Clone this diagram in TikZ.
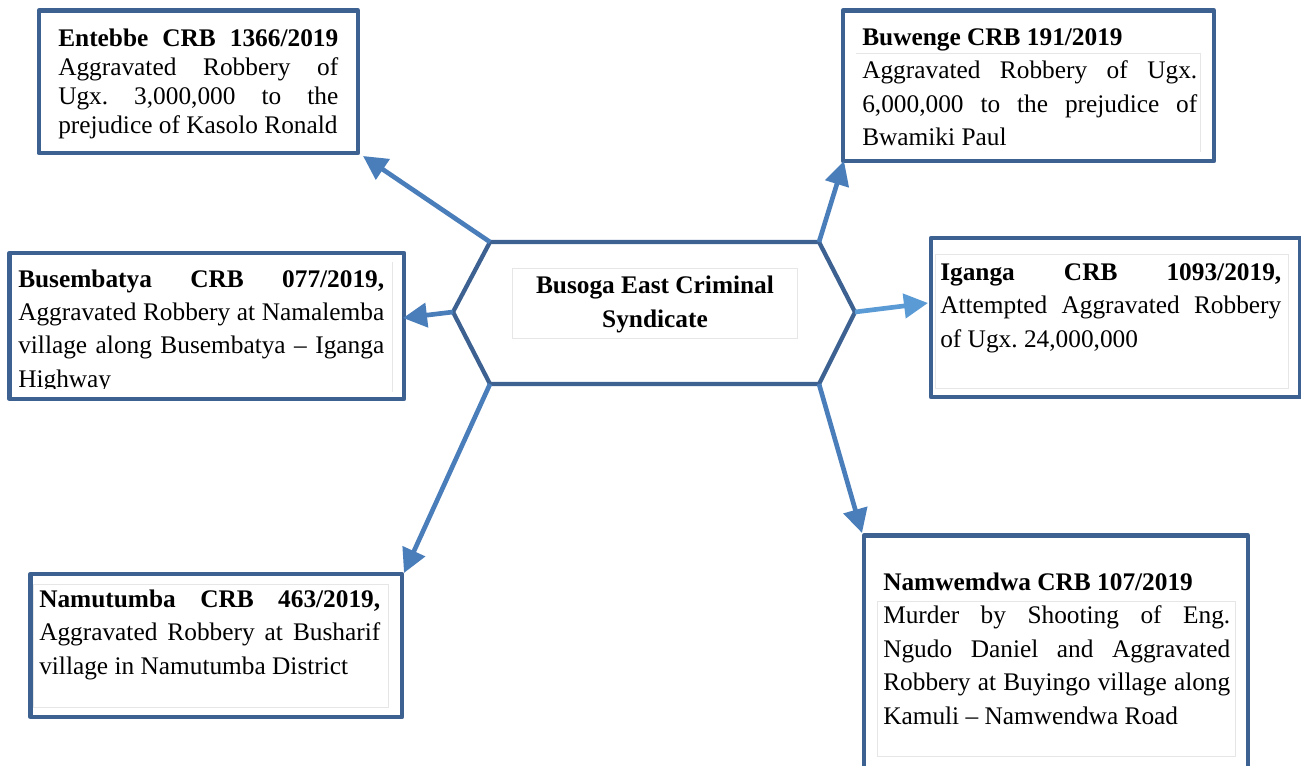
\documentclass[tikz,border=0pt]{standalone}
\usepackage{fontspec}
\setmainfont{Liberation Serif}
\usetikzlibrary{arrows.meta,fit}

\definecolor{frameblue}{HTML}{3D6292}
\definecolor{linkblue}{HTML}{4A7EBB}
\definecolor{lightlink}{HTML}{5B9BD5}
\definecolor{faintgray}{HTML}{E6E6E6}

% a line of text spread to a fixed width (justified line):
% every interword space gets an equal share of the spare room
\newcommand{\spreadline}[2]{{\spaceskip=.25em plus 1fil\relax\makebox[#1][s]{#2}}}
% a line of text at its natural width, left aligned
\newcommand{\plainline}[2]{\makebox[#1][l]{#2}}
% common set-up for box texts: Times-like single spaces and a first-line strut
\newcommand{\casestart}{\noindent\frenchspacing\spaceskip=.25em\relax\xspaceskip=.25em\relax\rule{0pt}{15pt}}

\tikzset{
  casebox/.style={draw=frameblue, line width=3.2pt, inner sep=0pt, line join=round},
  innerframe/.style={draw=faintgray, line width=0.6pt},
  casetext/.style={anchor=north west, inner sep=0pt,
    font=\fontsize{19pt}{25.1pt}\selectfont},
  link/.style={draw=linkblue, line width=3.5pt,
    -{Triangle[length=18pt,width=18pt]}},
}

\begin{document}
\begin{tikzpicture}[x=0.75pt,y=-0.75pt]
\useasboundingbox[fill=white] (0,0) rectangle (1301,766);

% ---- case boxes ----
\node[casebox, fit={(38.7,10.5) (358,153)}] (entebbe) {};
\node[casebox, fit={(843,10.5) (1214,161)}] (buwenge) {};
\node[casebox, fit={(9.5,253) (404,399)}] (busembatya) {};
\node[casebox, fit={(931,238) (1300.5,397)}] (iganga) {};
\node[casebox, fit={(30.5,574) (402,717)}] (namutumba) {};
\node[casebox, fit={(864,535.5) (1248,790)}] (namwemdwa) {};

% faint text-frame outlines inside the boxes
\draw[innerframe] (856,53) -- (1200,53) -- (1200,152);
\draw[innerframe] (392,262) -- (392,392);
\draw[innerframe] (935,254) rectangle (1288,388);
\draw[innerframe] (33,584) rectangle (388,707);
\draw[innerframe] (877,601) rectangle (1235,756);

% ---- box texts ----
\node[casetext, text width=210pt, font=\fontsize{19pt}{21.75pt}\selectfont]
  (entebbe-text) at (58,26)
  {\casestart\spreadline{210pt}{\textbf{Entebbe CRB 1366/2019}}\\
   \spreadline{210pt}{Aggravated Robbery of}\\
   \spreadline{210pt}{Ugx. 3,000,000 to the}\\
   \plainline{210pt}{prejudice of Kasolo Ronald}};

\node[casetext, text width=251.25pt] (buwenge-text) at (862,25)
  {\casestart\plainline{251.25pt}{\textbf{Buwenge CRB 191/2019}}\\
   \spreadline{251.25pt}{Aggravated Robbery of Ugx.}\\
   \spreadline{251.25pt}{6,000,000 to the prejudice of}\\
   \plainline{251.25pt}{Bwamiki Paul}};

\begin{scope}
  \clip (12,256) rectangle (401,388);
  \node[casetext, text width=274.5pt, font=\fontsize{19pt}{25pt}\selectfont]
    (busembatya-text) at (18,267)
    {\casestart\spreadline{274.5pt}{\textbf{Busembatya CRB 077/2019,}}\\
     \spreadline{274.5pt}{Aggravated Robbery at Namalemba}\\
     \spreadline{274.5pt}{village along Busembatya -- Iganga}\\
     \plainline{274.5pt}{Highway}};
\end{scope}

\node[casetext, text width=255.75pt] (iganga-text) at (940,260)
  {\casestart\spreadline{255.75pt}{\textbf{Iganga CRB 1093/2019,}}\\
   \spreadline{255.75pt}{Attempted Aggravated Robbery}\\
   \plainline{255.75pt}{of Ugx. 24,000,000}};

\node[casetext, text width=255.75pt] (namutumba-text) at (39,587)
  {\casestart\spreadline{255.75pt}{\textbf{Namutumba CRB 463/2019,}}\\
   \spreadline{255.75pt}{Aggravated Robbery at Busharif}\\
   \plainline{255.75pt}{village in Namutumba District}};

\node[casetext, text width=260.25pt] (namwemdwa-text) at (883,570)
  {\casestart\plainline{260.25pt}{\textbf{Namwemdwa CRB 107/2019}}\\
   \spreadline{260.25pt}{Murder by Shooting of Eng.}\\
   \spreadline{260.25pt}{Ngudo Daniel and Aggravated}\\
   \spreadline{260.25pt}{Robbery at Buyingo village along}\\
   \plainline{260.25pt}{Kamuli -- Namwendwa Road}};

% ---- central hexagon ----
\coordinate (hexL)  at (453,312);
\coordinate (hexTL) at (490,242);
\coordinate (hexTR) at (819,242);
\coordinate (hexR)  at (855,312);
\coordinate (hexBR) at (819,384);
\coordinate (hexBL) at (490,384);
\draw[frameblue, line width=3.2pt, line join=round]
  (hexL) -- (hexTL) -- (hexTR) -- (hexR) -- (hexBR) -- (hexBL) -- cycle;
\draw[innerframe] (512,268) rectangle (797,338);
\node[anchor=north, inner sep=0pt, align=center,
      font=\bfseries\fontsize{19pt}{25.5pt}\selectfont]
  (hub) at (655,273) {\rule{0pt}{15pt}Busoga East Criminal\\Syndicate};

% ---- connectors ----
\coordinate (tipEntebbe)    at (363,156);
\coordinate (tipBuwenge)    at (844,161);
\coordinate (tipBusembatya) at (403,318);
\coordinate (tipIganga)     at (928,303);
\coordinate (tipNamutumba)  at (404,573);
\coordinate (tipNamwemdwa)  at (862,533);

\draw[link] (hexTL) -- (tipEntebbe);
\draw[link] (hexTR) -- (tipBuwenge);
\draw[link] (hexL)  -- (tipBusembatya);
\draw[link, draw=lightlink] (hexR) -- (tipIganga);
\draw[link] (hexBL) -- (tipNamutumba);
\draw[link] (hexBR) -- (tipNamwemdwa);
\end{tikzpicture}
\end{document}
